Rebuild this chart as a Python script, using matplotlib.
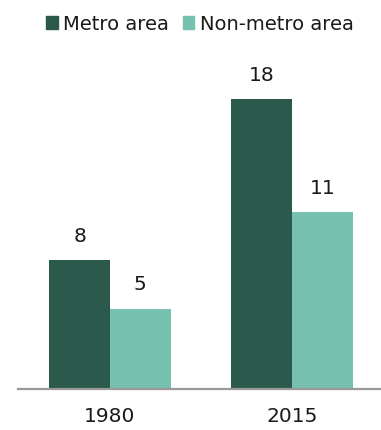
import numpy as np
import matplotlib.pyplot as plt
from matplotlib.patches import Patch

# values
years = ['1980', '2015']
metro = [8, 18]
non_metro = [5, 11]
series_names = ['Metro area', 'Non-metro area']

dark = '#2b5a4c'
light = '#76c1b0'

plt.rcParams['font.family'] = ['DejaVu Sans']

fig = plt.figure(figsize=(3.81, 4.31), dpi=100)
ax = fig.add_axes([18 / 381, 41 / 431, 363 / 381, 322 / 431])

x = np.arange(len(years))
w = 0.333
b1 = ax.bar(x - w / 2, metro, w, color=dark)
b2 = ax.bar(x + w / 2, non_metro, w, color=light)

# value labels above each bar
for bars, vals in [(b1, metro), (b2, non_metro)]:
    for rect, v in zip(bars, vals):
        ax.annotate(str(v), (rect.get_x() + rect.get_width() / 2, v),
                    xytext=(0, 15), textcoords='offset pixels',
                    ha='center', va='bottom', fontsize=14.5, color='#1a1a1a')

ax.set_xlim(-0.505, 1.489)
ax.set_ylim(0, 20)
ax.set_xticks(x)
ax.set_xticklabels(years, fontsize=14.5, color='#1a1a1a')
ax.tick_params(axis='x', length=0, pad=12.5)
ax.set_yticks([])
for side in ['top', 'right', 'left']:
    ax.spines[side].set_visible(False)
ax.spines['bottom'].set_color('#999999')
ax.spines['bottom'].set_linewidth(1.6)

handles = [Patch(color=dark), Patch(color=light)]
fig.legend(handles, series_names, loc='center', bbox_to_anchor=(0.525, 1 - 25 / 431),
           ncol=2, frameon=False, fontsize=14, handlelength=0.6, handleheight=0.6,
           handletextpad=0.3, columnspacing=0.7, borderpad=0,
           labelcolor='#1a1a1a')

fig.savefig('out.png', dpi=100)
